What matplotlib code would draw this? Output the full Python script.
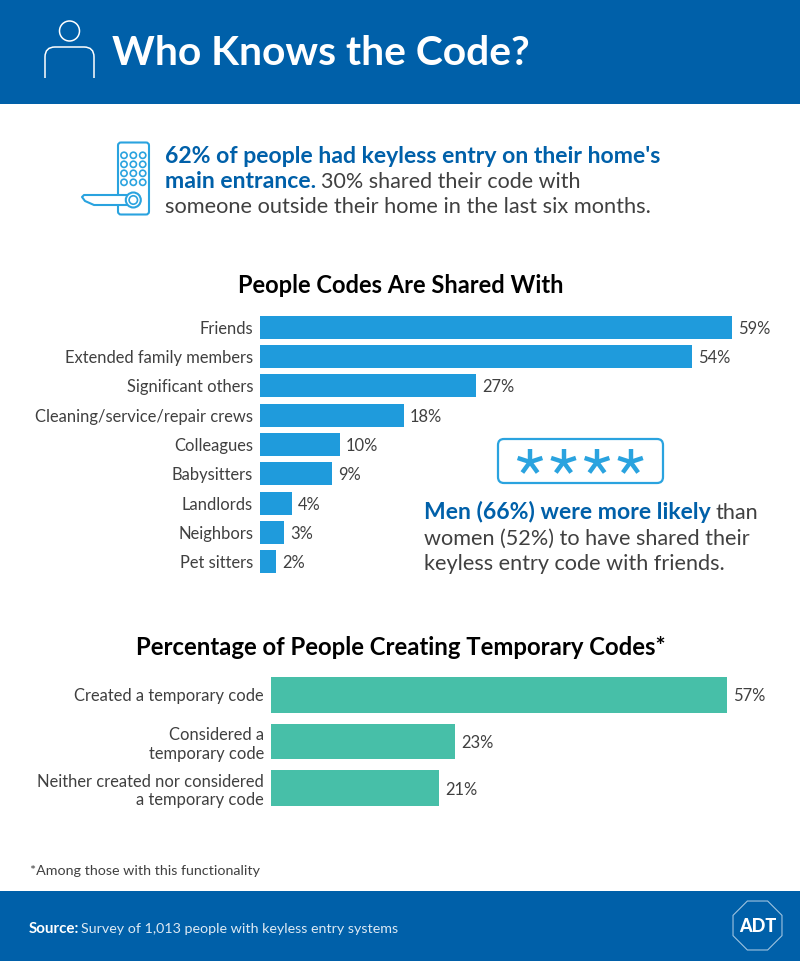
import matplotlib
matplotlib.use("Agg")
import matplotlib.pyplot as plt
from matplotlib.patches import Rectangle, FancyBboxPatch, Circle, RegularPolygon, Polygon, PathPatch
from matplotlib.path import Path
from matplotlib.transforms import ScaledTranslation
import numpy as np

plt.rcParams["font.family"] = ["Lato", "DejaVu Sans"]

BLUE = "#0060A9"
SKY = "#1F9BDC"
ICON = "#2AA3DF"
GREEN = "#47BFA8"
DARK = "#404040"

shared_labels = ["Friends", "Extended family members", "Significant others",
                 "Cleaning/service/repair crews", "Colleagues", "Babysitters",
                 "Landlords", "Neighbors", "Pet sitters"]
shared_values = [59, 54, 27, 18, 10, 9, 4, 3, 2]

temp_labels = ["Created a temporary code", "Considered a\ntemporary code",
               "Neither created nor considered\na temporary code"]
temp_values = [57, 23, 21]

W, H = 800, 962
fig = plt.figure(figsize=(W / 100, H / 100), dpi=100, facecolor="white")

# pixel canvas for everything around the charts
bg = fig.add_axes([0, 0, 1, 1])
bg.set_xlim(0, W)
bg.set_ylim(H, 0)
bg.axis("off")


def px_axes(left, top, width, height):
    ax = fig.add_axes([left / W, 1 - (top + height) / H, width / W, height / H])
    ax.patch.set_alpha(0)
    for s in ax.spines.values():
        s.set_visible(False)
    ax.xaxis.set_visible(False)
    ax.tick_params(axis="y", length=0, pad=5)
    return ax


def hbar(ax, labels, values, color, bar_h, fs):
    y = np.arange(len(values))
    # text sits 1px above the bar centre in the reference
    nudge = ScaledTranslation(0, 1 / 100, fig.dpi_scale_trans)
    ax.barh(y, values, height=bar_h, color=color)
    ax.set_yticks(y)
    ax.set_yticklabels(labels, fontsize=fs, color=DARK, linespacing=1.2)
    for lab in ax.get_yticklabels():
        lab.set_transform(lab.get_transform() + nudge)
    ax.set_ylim(len(values) - 0.5, -0.5)
    ax.set_xlim(0, 66)
    for yy, v in zip(y, values):
        ax.text(v + 0.75, yy, f"{v}%", va="center_baseline", ha="left", fontsize=fs, color=DARK,
                transform=ax.transData + nudge)


# header and footer bands
bg.add_patch(Rectangle((0, 0), W, 105, color=BLUE, lw=0))
bg.add_patch(Rectangle((0, 892), W, 70, color=BLUE, lw=0))

# person icon
bg.add_patch(Circle((69.5, 32), 10, fill=False, ec="white", lw=1.1))
shoulders = Path([(45, 79), (45, 58), (45, 48), (55, 48), (84, 48), (94, 48), (94, 58), (94, 79)],
                 [Path.MOVETO, Path.LINETO, Path.CURVE3, Path.CURVE3, Path.LINETO,
                  Path.CURVE3, Path.CURVE3, Path.LINETO])
bg.add_patch(PathPatch(shoulders, fill=False, ec="white", lw=1.1))

bg.text(112, 65, "Who Knows the Code?", color="white", fontsize=29.3,
        fontweight="bold", va="baseline", ha="left")

# lock icon
bg.add_patch(FancyBboxPatch((118, 143.5), 31, 72, boxstyle="round,pad=0,rounding_size=3",
                            fill=False, ec=ICON, lw=1.5))
for r in range(4):
    for c in range(3):
        bg.add_patch(Circle((124 + c * 9.35, 156.3 + r * 9), 3.1, fill=False, ec=ICON, lw=1.2))
bg.add_patch(Polygon([(128, 196), (84, 196), (82, 198), (85, 202), (94, 206), (128, 206)],
                     closed=True, fc="white", ec=ICON, lw=1.5, joinstyle="round", zorder=3))
bg.add_patch(Circle((133.3, 201), 7.5, fc="white", ec=ICON, lw=1.5, zorder=4))
bg.add_patch(Circle((133.3, 201), 4.2, fc="white", ec=ICON, lw=1.2, zorder=4))

# intro text
bg.text(165, 163, "62% of people had keyless entry on their home's", color=BLUE,
        fontsize=16.6, fontweight="bold", va="baseline")
bg.text(165, 188, "main entrance.", color=BLUE, fontsize=16.6, fontweight="bold", va="baseline")
bg.text(321, 188, "30% shared their code with", color=DARK, fontsize=15.5, va="baseline")
bg.text(165, 213, "someone outside their home in the last six months.", color=DARK,
        fontsize=15.7, va="baseline")

# first chart
bg.text(400.5, 293, "People Codes Are Shared With", color="black", fontsize=17,
        fontweight="bold", ha="center", va="baseline")
ax1 = px_axes(260, 313.5, 528, 264)
hbar(ax1, shared_labels, shared_values, SKY, 0.78, 11.9)

# asterisk callout
bg.add_patch(FancyBboxPatch((498, 440), 165, 44, boxstyle="round,pad=0,rounding_size=6",
                            fill=False, ec=ICON, lw=1.6))
for xc in [530, 563.5, 597, 630.5]:
    for ang in [90, 162, 234, 306, 18]:
        a = np.deg2rad(ang)
        bg.plot([xc, xc + 13 * np.cos(a)], [463, 463 - 13 * np.sin(a)], color=ICON, lw=3.2,
                solid_capstyle="butt")

bg.text(424, 519, "Men (66%) were more likely", color=BLUE, fontsize=16.6,
        fontweight="bold", va="baseline")
bg.text(716, 519, "than", color=DARK, fontsize=15.6, va="baseline")
bg.text(424, 545, "women (52%) to have shared their", color=DARK, fontsize=15.6, va="baseline")
bg.text(424, 570, "keyless entry code with friends.", color=DARK, fontsize=15.6, va="baseline")

# second chart
bg.text(400.5, 655, "Percentage of People Creating Temporary Codes*", color="black",
        fontsize=17.2, fontweight="bold", ha="center", va="baseline")
ax2 = px_axes(271, 672.5, 528, 140)
hbar(ax2, temp_labels, temp_values, GREEN, 0.76, 11.9)

bg.text(30, 875, "*Among those with this functionality", color=DARK, fontsize=10.3, va="baseline")

# footer
bg.text(29, 933, "Source:", color="white", fontsize=10.9, fontweight="bold", va="baseline")
bg.text(81, 933, "Survey of 1,013 people with keyless entry systems", color="#DCE9F4",
        fontsize=10.3, va="baseline")
bg.add_patch(RegularPolygon((757.5, 926.5), 8, radius=26.5, orientation=np.pi / 8, fill=False,
                            ec="#9FC3E0", lw=0.8))
bg.text(757.5, 927, "ADT", color="white", fontsize=13, fontweight="black", ha="center",
        va="center")

fig.savefig("out.png", dpi=100, facecolor="white")
